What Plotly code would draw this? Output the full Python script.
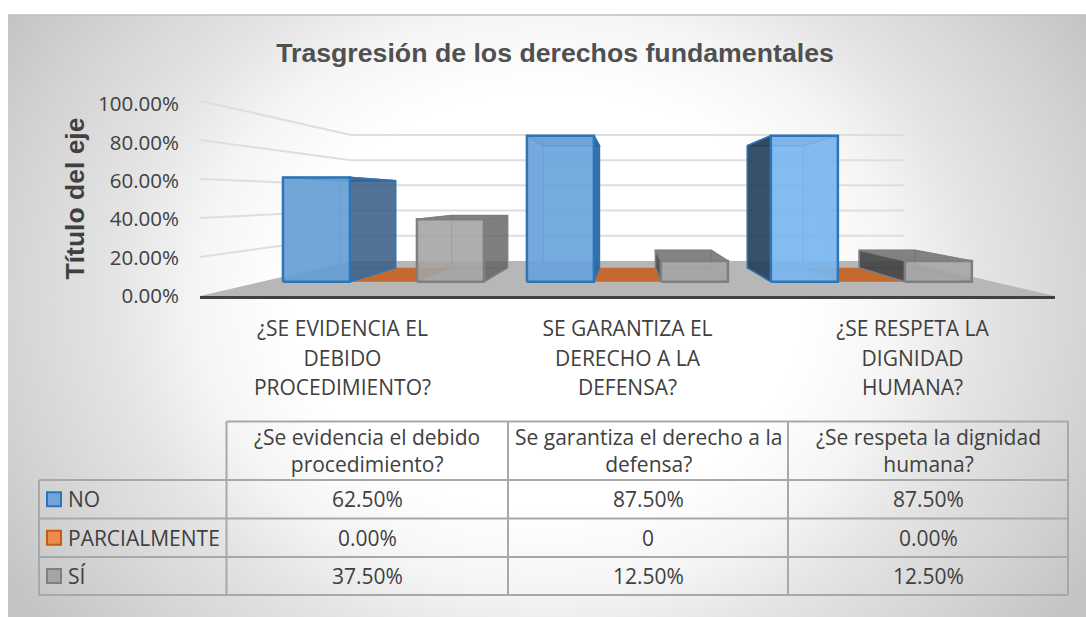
import base64
import plotly.graph_objects as go

# ---------- data ----------
category_ticks = ["¿SE EVIDENCIA EL<br>DEBIDO<br>PROCEDIMIENTO?",
                  "SE GARANTIZA EL<br>DERECHO A LA<br>DEFENSA?",
                  "¿SE RESPETA LA<br>DIGNIDAD<br>HUMANA?"]
table_headers = ["¿Se evidencia el debido<br>procedimiento?",
                 "Se garantiza el derecho a la<br>defensa?",
                 "¿Se respeta la dignidad<br>humana?"]
series_names = ["NO", "PARCIALMENTE", "SÍ"]
no_values = [62.5, 87.5, 87.5]
parcial_values = [0.0, 0.0, 0.0]
si_values = [37.5, 12.5, 12.5]
no_labels = ["62.50%", "87.50%", "87.50%"]
parcial_labels = ["0.00%", "0", "0.00%"]
si_labels = ["37.50%", "12.50%", "12.50%"]
y_ticks = [0, 20, 40, 60, 80, 100]
y_tick_labels = ["0.00%", "20.00%", "40.00%", "60.00%", "80.00%", "100.00%"]

W, H = 1086, 617
L, R, T, B = 200, 1055, 101, 296
FONT = "Open Sans"
TXT = "#404040"
FS = 21

# ---------- perspective helpers ----------
YMAX = 101.6
VS = YMAX / 100          # wall height in axis units
VPX, VPY = 1.5, 51.56    # vanishing point in axis units
S_BACK, S_BF, S_BB = 0.647, 0.856, 0.715   # depth scales: wall, bar front, bar back
BAR_W, BAR_GAP = 0.2746, 0.0877


def proj(u, s, v):
    return VPX + (u - VPX) * s, VPY + (v * VS - VPY) * s


def poly(pts, fill, line=None, width=0):
    xs, ys = zip(*pts)
    return go.Scatter(x=list(xs) + [xs[0]], y=list(ys) + [ys[0]], mode="lines",
                      fill="toself", fillcolor=fill, cliponaxis=False,
                      line=dict(color=line or "rgba(0,0,0,0)", width=width),
                      hoverinfo="skip", showlegend=False)


def seg(p, q, color, width):
    return go.Scatter(x=[p[0], q[0]], y=[p[1], q[1]], mode="lines", cliponaxis=False,
                      line=dict(color=color, width=width), hoverinfo="skip", showlegend=False)


fig = go.Figure()

# floor
fig.add_trace(poly([proj(0, 1, 0), proj(3, 1, 0), proj(3, S_BACK, 0), proj(0, S_BACK, 0)], "#b7b7b7"))
# walls' gridlines
GRID = "#dedede"
for t in y_ticks[1:]:
    fig.add_trace(seg(proj(0, 1, t), proj(0, S_BACK, t), GRID, 2))
    fig.add_trace(seg(proj(0, S_BACK, t), proj(3, S_BACK, t), GRID, 2))

# per-category lighting, as the original's 3-D shading varies with the angle to the viewer
BLUE_FRONT = ["rgba(102,158,212,0.88)", "rgba(106,163,220,0.88)", "rgba(122,182,240,0.88)"]
BLUE_SIDE = ["rgba(55,90,130,0.82)", "rgba(40,95,150,0.88)", "rgba(35,60,85,0.88)"]
GREY_SIDE = ["rgba(90,90,90,0.72)", "rgba(70,70,70,0.85)", "rgba(60,60,60,0.85)"]
STYLES = [
    dict(front=BLUE_FRONT, back="rgba(91,155,213,0.30)", side=BLUE_SIDE,
         far="rgba(91,155,213,0.32)", cap="rgba(50,100,155,0.55)", edge="#2e75b6", inner="rgba(91,155,213,0.9)"),
    dict(fill="#c46a30"),
    dict(front=["rgba(165,165,165,0.84)"] * 3, back="rgba(150,150,150,0.30)", side=GREY_SIDE,
         far="rgba(150,150,150,0.30)", cap="rgba(115,115,115,0.85)", edge="#7f7f7f", inner="rgba(127,127,127,0.8)"),
]

all_values = [no_values, parcial_values, si_values]

# zero-height series lie on the floor, behind everything else
for si, values in enumerate(all_values):
    for c, v in enumerate(values):
        if v == 0:
            u0 = c + BAR_GAP + si * BAR_W
            u1 = u0 + BAR_W
            fig.add_trace(poly([proj(u0, S_BF, 0), proj(u1, S_BF, 0), proj(u1, S_BB, 0), proj(u0, S_BB, 0)],
                               STYLES[si]["fill"]))

for si, values in enumerate(all_values):
    st = STYLES[si]
    for c, v in enumerate(values):
        if v == 0:
            continue
        u0 = c + BAR_GAP + si * BAR_W
        u1 = u0 + BAR_W
        near_u, far_u = (u1, u0) if u1 < VPX else (u0, u1)
        # back, far side, floor
        fig.add_trace(poly([proj(u0, S_BB, 0), proj(u1, S_BB, 0), proj(u1, S_BB, v), proj(u0, S_BB, v)], st["back"], st["inner"], 1))
        fig.add_trace(poly([proj(far_u, S_BF, 0), proj(far_u, S_BB, 0), proj(far_u, S_BB, v), proj(far_u, S_BF, v)], st["far"], st["inner"], 1))
        fig.add_trace(poly([proj(u0, S_BF, 0), proj(u1, S_BF, 0), proj(u1, S_BB, 0), proj(u0, S_BB, 0)], st["far"]))
        # cap
        fig.add_trace(poly([proj(u0, S_BF, v), proj(u1, S_BF, v), proj(u1, S_BB, v), proj(u0, S_BB, v)], st["cap"], st["edge"], 1.5))
        # near side
        fig.add_trace(poly([proj(near_u, S_BF, 0), proj(near_u, S_BB, 0), proj(near_u, S_BB, v), proj(near_u, S_BF, v)], st["side"][c], st["edge"], 1.5))
        # front
        fig.add_trace(poly([proj(u0, S_BF, 0), proj(u1, S_BF, 0), proj(u1, S_BF, v), proj(u0, S_BF, v)], st["front"][c], st["edge"], 2.5))


def px(x):
    return (x - L) / (R - L)


def py(y):
    return (B - y) / (B - T)


# ---------- background gradient ----------
svg = """<svg xmlns='http://www.w3.org/2000/svg' width='1078' height='602'>
<defs><radialGradient id='g' gradientUnits='userSpaceOnUse' cx='0' cy='0' r='640'
 gradientTransform='translate(540,285) scale(1,0.82)'>
<stop offset='0' stop-color='#ffffff'/><stop offset='0.40' stop-color='#ffffff'/>
<stop offset='0.55' stop-color='#f5f5f5'/><stop offset='0.68' stop-color='#e4e4e4'/>
<stop offset='0.87' stop-color='#d2d2d2'/><stop offset='1' stop-color='#c4c4c4'/></radialGradient></defs>
<rect width='1078' height='602' fill='url(#g)'/></svg>"""
bg = "data:image/svg+xml;base64," + base64.b64encode(svg.encode()).decode()

# ---------- data table ----------
TX = [39, 226.5, 508, 788, 1068]
TY = [421.5, 480, 518.5, 557, 595]
LC = "#a8a8a8"
shapes = [dict(type="line", xref="paper", yref="paper", x0=px(8), x1=px(1086), y0=py(15), y1=py(15),
               line=dict(color="#bfbfbf", width=1.5))]


def hline(x0, x1, y):
    shapes.append(dict(type="line", xref="paper", yref="paper", x0=px(x0), x1=px(x1), y0=py(y), y1=py(y),
                       line=dict(color=LC, width=2)))


def vline(x, y0, y1):
    shapes.append(dict(type="line", xref="paper", yref="paper", x0=px(x), x1=px(x), y0=py(y0), y1=py(y1),
                       line=dict(color=LC, width=2)))


hline(TX[1], TX[4], TY[0])
for y in TY[1:]:
    hline(TX[0], TX[4], y)
vline(TX[0], TY[1], TY[4])
for x in TX[1:]:
    vline(x, TY[0], TY[4])

annos = []


def text(x, y, s, anchor="center", size=FS):
    annos.append(dict(xref="paper", yref="paper", x=px(x), y=py(y), text=s, showarrow=False,
                      xanchor=anchor, yanchor="middle", font=dict(family=FONT, size=size, color=TXT)))


def spaced(s, size=FS, spacing=27):
    """Keep the glyph size but set the line pitch of a multi-line label."""
    return "<br>".join(f"<span style='font-size:{size}px'>{p}</span>" for p in s.split("<br>")), spacing / 1.3


for c in range(3):
    cx = (TX[c + 1] + TX[c + 2]) / 2
    s, outer = spaced(table_headers[c])
    text(cx, (TY[0] + TY[1]) / 2, s, size=outer)
    for r, labels in enumerate([no_labels, parcial_labels, si_labels]):
        text(cx, (TY[r + 1] + TY[r + 2]) / 2, labels[c])

KEYS = [("#6fa5db", "#2e75b6"), ("#ed8b4a", "#c55a11"), ("#a5a5a5", "#7f7f7f")]
for r, name in enumerate(series_names):
    ym = (TY[r + 1] + TY[r + 2]) / 2
    shapes.append(dict(type="rect", xref="paper", yref="paper", x0=px(47), x1=px(61), y0=py(ym - 7), y1=py(ym + 7),
                       fillcolor=KEYS[r][0], line=dict(color=KEYS[r][1], width=2)))
    text(65.5, ym, name, anchor="left")

tick_text = [spaced(t, FS, 29.5)[0] for t in category_ticks]

fig.update_layout(
    width=W, height=H, autosize=False,
    margin=dict(l=L, r=W - R, t=T, b=H - B, pad=0),
    paper_bgcolor="white", plot_bgcolor="rgba(0,0,0,0)",
    showlegend=False,
    title=dict(text="<b>Trasgresión de los derechos fundamentales</b>", x=555 / W, xanchor="center",
               y=1 - 53 / H, yanchor="middle",
               font=dict(family="Liberation Sans", size=26.7, color="#505050")),
    xaxis=dict(range=[0, 3], tickmode="array", tickvals=[0.5, 1.5, 2.5], ticktext=tick_text,
               showgrid=False, zeroline=False, showline=True, linecolor="#404040", linewidth=3,
               ticks="", tickangle=0, ticklabelstandoff=10,
               tickfont=dict(family=FONT, size=29.5 / 1.3, color=TXT)),
    yaxis=dict(range=[0, YMAX], tickmode="array", tickvals=y_ticks, ticktext=y_tick_labels,
               showgrid=False, zeroline=False, showline=False, ticks="", ticklabelstandoff=20,
               tickfont=dict(family=FONT, size=20.5, color=TXT),
               title=dict(text="<b>Título del eje</b>", standoff=5,
                          font=dict(family="Liberation Sans", size=26.5, color="#404040"))),
    images=[dict(source=bg, xref="paper", yref="paper", x=px(8), y=py(15), sizex=1078 / (R - L), sizey=602 / (B - T),
                 xanchor="left", yanchor="top", sizing="stretch", layer="below")],
    shapes=shapes, annotations=annos,
)

fig.write_html("out.html", config=dict(displayModeBar=False), post_script="document.body.style.margin='0';")
